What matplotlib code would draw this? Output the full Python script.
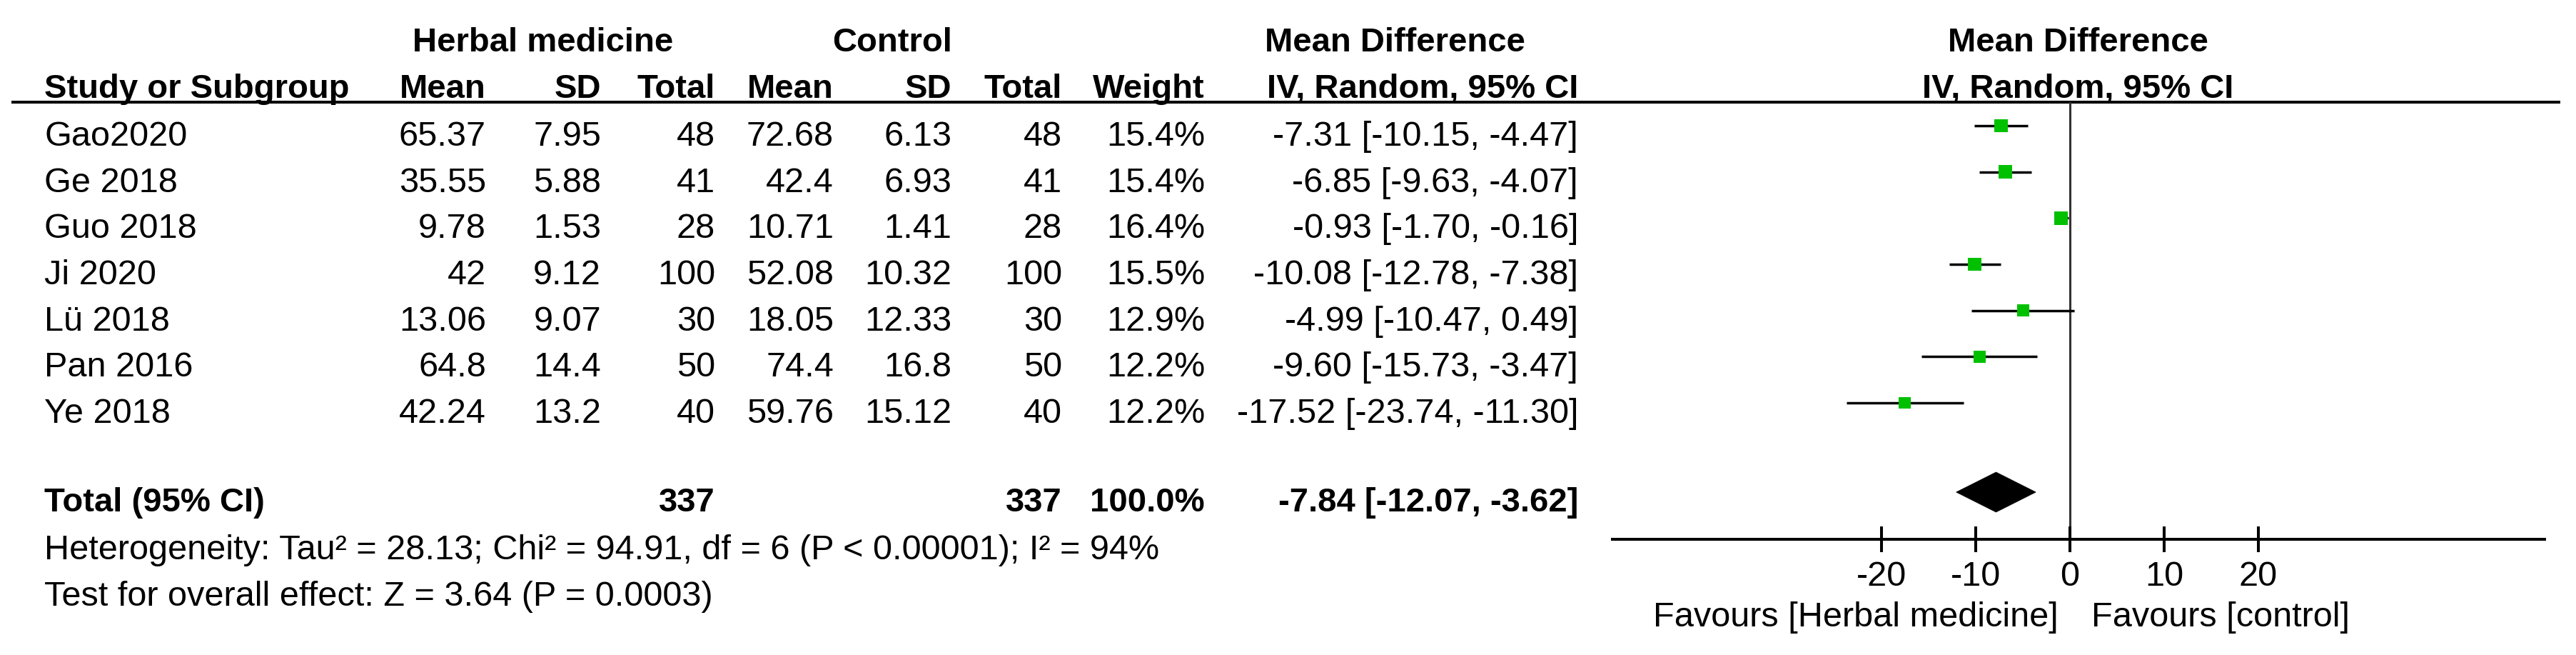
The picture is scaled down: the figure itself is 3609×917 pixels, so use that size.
import matplotlib
matplotlib.use("Agg")
import matplotlib.pyplot as plt
from matplotlib.patches import Polygon
import numpy as np

# ---------------- data ----------------
studies = ["Gao2020", "Ge 2018", "Guo 2018", "Ji 2020", "Lü 2018", "Pan 2016", "Ye 2018"]
herb_mean = [65.37, 35.55, 9.78, 42, 13.06, 64.8, 42.24]
herb_sd = [7.95, 5.88, 1.53, 9.12, 9.07, 14.4, 13.2]
herb_n = [48, 41, 28, 100, 30, 50, 40]
ctrl_mean = [72.68, 42.4, 10.71, 52.08, 18.05, 74.4, 59.76]
ctrl_sd = [6.13, 6.93, 1.41, 10.32, 12.33, 16.8, 15.12]
ctrl_n = [48, 41, 28, 100, 30, 50, 40]
weights = [15.4, 15.4, 16.4, 15.5, 12.9, 12.2, 12.2]
md = [-7.31, -6.85, -0.93, -10.08, -4.99, -9.60, -17.52]
md_lo = [-10.15, -9.63, -1.70, -12.78, -10.47, -15.73, -23.74]
md_hi = [-4.47, -4.07, -0.16, -7.38, 0.49, -3.47, -11.30]

total_herb_n = 337
total_ctrl_n = 337
total_weight = 100.0
total_md = -7.84
total_lo = -12.07
total_hi = -3.62

heterogeneity = "Heterogeneity: Tau² = 28.13; Chi² = 94.91, df = 6 (P < 0.00001); I² = 94%"
overall = "Test for overall effect: Z = 3.64 (P = 0.0003)"
xticks = [-20, -10, 0, 10, 20]
xlim = (-50, 50)
fav_left = "Favours [Herbal medicine]"
fav_right = "Favours [control]"

# ---------------- layout ----------------
W, H = 3609, 917
DPI = 100
FS = 35
FSB = 34
FONT = "Liberation Sans"
plt.rcParams["font.family"] = [FONT, "DejaVu Sans"]

fig = plt.figure(figsize=(W / DPI, H / DPI), dpi=DPI)
fig.patch.set_facecolor("white")
ax = fig.add_axes([0, 0, 1, 1])
ax.set_xlim(0, W)
ax.set_ylim(H, 0)
ax.axis("off")

row0 = 204.0
rstep = 64.67
base = [row0 + i * rstep for i in range(len(studies))]
mark_y = [b - 28 for b in base]

x_study = 62
x_hm, x_hsd, x_hn = 681, 842, 1002
x_cm, x_csd, x_cn = 1168, 1333, 1488
x_w = 1688
x_ci = 2211


def t(x, y, s, ha="left", bold=False):
    ax.text(x, y, s, ha=ha, va="baseline", fontsize=FSB if bold else FS,
            fontweight="bold" if bold else "normal", color="black")


# headers
t(761, 72, "Herbal medicine", ha="center", bold=True)
t(1250, 72, "Control", ha="center", bold=True)
t(1954, 72, "Mean Difference", ha="center", bold=True)
t(2911, 72, "Mean Difference", ha="center", bold=True)
hy = 137
t(x_study, hy, "Study or Subgroup", bold=True)
t(x_hm, hy, "Mean", ha="right", bold=True)
t(x_hsd, hy, "SD", ha="right", bold=True)
t(x_hn, hy, "Total", ha="right", bold=True)
t(x_cm, hy, "Mean", ha="right", bold=True)
t(x_csd, hy, "SD", ha="right", bold=True)
t(x_cn, hy, "Total", ha="right", bold=True)
t(x_w, hy, "Weight", ha="right", bold=True)
t(x_ci, hy, "IV, Random, 95% CI", ha="right", bold=True)
t(2911, hy, "IV, Random, 95% CI", ha="center", bold=True)

ax.plot([16, 3587], [143, 143], color="black", lw=2.9, solid_capstyle="butt")

# rows
for i, s in enumerate(studies):
    y = base[i]
    t(x_study, y, s)
    t(x_hm, y, f"{herb_mean[i]:g}", ha="right")
    t(x_hsd, y, f"{herb_sd[i]:g}", ha="right")
    t(x_hn, y, f"{herb_n[i]}", ha="right")
    t(x_cm, y, f"{ctrl_mean[i]:g}", ha="right")
    t(x_csd, y, f"{ctrl_sd[i]:g}", ha="right")
    t(x_cn, y, f"{ctrl_n[i]}", ha="right")
    t(x_w, y, f"{weights[i]:.1f}%", ha="right")
    t(x_ci, y, f"{md[i]:.2f} [{md_lo[i]:.2f}, {md_hi[i]:.2f}]", ha="right")

ty = 716
t(x_study, ty, "Total (95% CI)", bold=True)
t(x_hn, ty, f"{total_herb_n}", ha="right", bold=True)
t(x_cn, ty, f"{total_ctrl_n}", ha="right", bold=True)
t(x_w, ty, f"{total_weight:.1f}%", ha="right", bold=True)
t(x_ci, ty, f"{total_md:.2f} [{total_lo:.2f}, {total_hi:.2f}]", ha="right", bold=True)
t(x_study, 783, heterogeneity)
t(x_study, 848, overall)
t(2884, 877, fav_left, ha="right")
t(2930, 877, fav_right, ha="left")

# ---------------- forest panel ----------------
fx0, fx1 = 2240, 3560
fy_top, fy_bot = 143, 755
fax = fig.add_axes([fx0 / W, (H - fy_bot) / H, (fx1 - fx0) / W, (fy_bot - fy_top) / H])
fax.set_xlim(*xlim)
fax.set_ylim(fy_bot, fy_top)
fax.patch.set_alpha(0)
for sp in ["top", "left", "right"]:
    fax.spines[sp].set_visible(False)
fax.spines["bottom"].set_linewidth(2.9)
fax.spines["bottom"].set_bounds(-48.7, 50.5)
fax.spines["bottom"].set_capstyle("butt")
fax.set_yticks([])
fax.set_xticks(xticks, [f"{v:g}" for v in xticks])
fax.tick_params(axis="x", direction="inout", length=26, width=2.9,
                pad=8.6, labelsize=FS, colors="black")
for lab in fax.get_xticklabels():
    lab.set_fontfamily([FONT, "DejaVu Sans"])

fax.axvline(0, color="#333333", lw=2.2, zorder=1)
fax.hlines(mark_y, md_lo, md_hi, color="black", lw=2.5, zorder=2)
sides = [4.8 * np.sqrt(w) * 0.72 for w in weights]
fax.scatter(md, mark_y, marker="s", s=[s ** 2 for s in sides],
            color="#00C000", edgecolors="none", zorder=3)

dy = 689
dh = 28
fax.add_patch(Polygon([(total_lo, dy), (total_md, dy - dh), (total_hi, dy), (total_md, dy + dh)],
                      closed=True, facecolor="black", edgecolor="black", lw=0.5, zorder=3))

fig.savefig("out.png", dpi=DPI, facecolor="white")
